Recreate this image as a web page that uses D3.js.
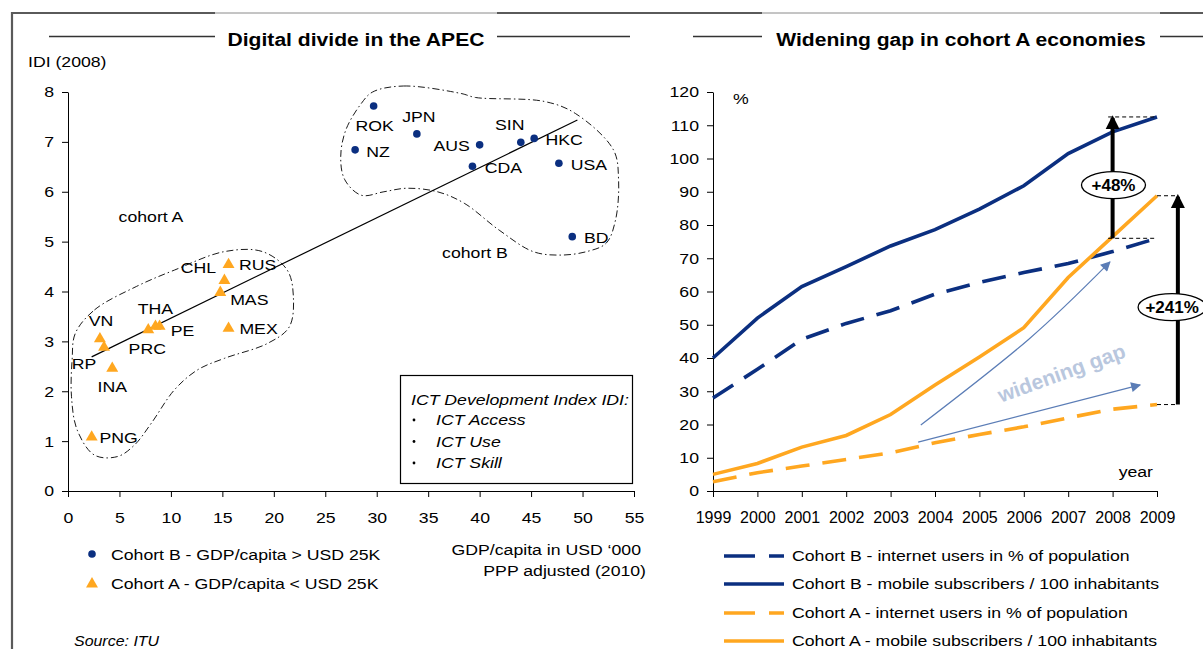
<!DOCTYPE html>
<html><head><meta charset="utf-8">
<script src="https://cdn.jsdelivr.net/npm/d3@7"></script>
<style>
html,body{margin:0;padding:0;background:#fff;}
svg{display:block;font-family:"Liberation Sans",Arial,sans-serif;}
</style></head>
<body><svg id="c" width="1203" height="649"></svg>
<script>
// ---------- Left chart data ----------
const cohortBNames = ["ROK","JPN","AUS","SIN","HKC","NZ","CDA","USA","BD"];
const cohortBGdp   = [29.7, 33.9, 40.0, 44.0, 45.3, 27.9, 39.3, 47.7, 49.0];
const cohortBIdi   = [7.72, 7.16, 6.94, 6.99, 7.07, 6.84, 6.51, 6.57, 5.10];
const cohortANames = ["PNG","INA","RP","VN","PRC","THA","PE","MAS","CHL","RUS","MEX"];
const cohortAGdp   = [2.3, 4.3, 3.5, 3.1, 7.8, 8.5, 8.9, 14.8, 15.2, 15.6, 15.6];
const cohortAIdi   = [1.08, 2.46, 2.88, 3.05, 3.23, 3.3, 3.3, 3.98, 4.22, 4.54, 3.26];
const trendGdp = [2.3, 49.5];
const trendIdi = [2.69, 7.44];
const xTicksLeft = [0,5,10,15,20,25,30,35,40,45,50,55];
const yTicksLeft = [0,1,2,3,4,5,6,7,8];
// outline of groups (data coordinates)
const blobBGdp = [29.6,32.6,38.2,39.6,46.3,49.3,53.0,53.5,53.2,52.3,50.4,47.8,45.2,41.9,38.5,35.9,32.9,30.7,28.5,26.9,26.5,27.0,28.5];
const blobBIdi = [8.0,8.12,7.97,7.89,7.81,7.57,6.84,6.24,5.43,4.97,4.80,4.73,4.80,5.23,5.77,6.0,6.07,6.0,5.93,6.24,6.70,7.24,7.77];
const blobAGdp = [0.71,2.57,6.64,10.35,15.2,18.9,21.3,21.9,21.5,19.4,15.2,12.6,10.35,8.1,6.45,4.8,2.57,0.9,0.34,0.4];
const blobAIdi = [3.16,3.63,4.10,4.43,4.80,4.80,4.43,3.90,3.29,2.96,2.66,2.43,2.03,1.36,0.92,0.69,0.72,1.22,1.89,2.63];

// ---------- Right chart data ----------
const years = [1999,2000,2001,2002,2003,2004,2005,2006,2007,2008,2009];
const bInternet = [28, 36.6, 45.6, 50.4, 54.2, 59.2, 62.7, 65.7, 68.4, 72, 76];
const bMobile   = [40, 52, 61.5, 67.5, 73.7, 78.6, 84.8, 91.8, 101.5, 108, 112.5];
const aInternet = [2.8, 5.5, 7.5, 9.5, 11.5, 14.5, 17, 19.3, 22, 24.6, 26];
const aMobile   = [5, 8.3, 13.2, 16.7, 23, 31.9, 40.3, 49.1, 64.2, 76.5, 88.8];
const yTicksRight = [0,10,20,30,40,50,60,70,80,90,100,110,120];
const seriesNames = ["Cohort B - internet users in % of population","Cohort B - mobile subscribers / 100 inhabitants","Cohort A - internet users in % of population","Cohort A - mobile subscribers / 100 inhabitants"];
const gapLabels = ["+48%","+241%"];

const NAVY = "#0b2f80", ORANGE = "#ffa720", FONT = 15.5, STRETCH = 1.14;
const svg = d3.select("#c");

// ---------- frame ----------
const frame = svg.append("g");
[[11,215,2.2,"#5a5a5a"],[215,497,1,"#8a8a8a"],[497,762,2.2,"#5a5a5a"],[762,1160,1,"#8a8a8a"],[1160,1203,2.2,"#5a5a5a"]].forEach(s=>{
  frame.append("line").attr("x1",s[0]).attr("x2",s[1]).attr("y1",13).attr("y2",13).attr("stroke",s[3]).attr("stroke-width",s[2]);
});
frame.append("line").attr("x1",12).attr("x2",12).attr("y1",12).attr("y2",649).attr("stroke","#5a5a5a").attr("stroke-width",2.2);

// titles
function title(cx, txt, l1, l2, r1, r2){
  svg.append("text").attr("x",cx).attr("y",46).attr("text-anchor","middle").attr("font-weight","bold").attr("font-size",18.5).text(txt);
  svg.append("line").attr("x1",l1).attr("x2",l2).attr("y1",36.5).attr("y2",36.5).attr("stroke","#333").attr("stroke-width",1.3);
  svg.append("line").attr("x1",r1).attr("x2",r2).attr("y1",36.5).attr("y2",36.5).attr("stroke","#333").attr("stroke-width",1.3);
}
title(356, "Digital divide in the APEC", 49, 215, 497, 630);
title(961, "Widening gap in cohort A economies", 693, 762, 1160, 1203);

// ---------- LEFT CHART ----------
const xL = d3.scaleLinear().domain([0,55]).range([68,634]);
const yL = d3.scaleLinear().domain([0,8]).range([491,92]);
const gL = svg.append("g");

gL.append("g").attr("transform","translate(68,0)")
  .call(d3.axisLeft(yL).tickValues(yTicksLeft).tickSize(6).tickSizeOuter(0).tickPadding(8))
  .call(g=>{g.select(".domain").attr("stroke","#000");g.selectAll("text").attr("font-size",FONT).attr("font-family","inherit");});
gL.append("g").attr("transform","translate(0,491)")
  .call(d3.axisBottom(xL).tickValues(xTicksLeft).tickSize(6).tickSizeOuter(0).tickPadding(15))
  .call(g=>{g.select(".domain").attr("stroke","#000");g.selectAll("text").attr("font-size",FONT).attr("font-family","inherit");});

gL.append("text").attr("x",28).attr("y",67).attr("font-size",FONT).text("IDI (2008)");

// blobs
const blobLine = d3.line().x(d=>xL(d[0])).y(d=>yL(d[1])).curve(d3.curveCatmullRomClosed.alpha(0.5));
[[blobBGdp,blobBIdi],[blobAGdp,blobAIdi]].forEach(([gx,gy])=>{
  gL.append("path").attr("d",blobLine(d3.zip(gx,gy))).attr("fill","none").attr("stroke","#000")
    .attr("stroke-width",0.9).attr("stroke-dasharray","7,3,1.5,3");
});

// trend
gL.append("line").attr("x1",xL(trendGdp[0])).attr("y1",yL(trendIdi[0])).attr("x2",xL(trendGdp[1])).attr("y2",yL(trendIdi[1]))
  .attr("stroke","#000").attr("stroke-width",1.2);

// label offsets (pixels)
const offB = [[1,25],[2,-12],[-28,6],[-11,-12],[30,7],[23,7],[31,7],[30,7],[24,6]];
const offA = [[27,6],[0,24],[-20,22],[1,-13],[-1,24],[0,-12],[23,10],[29,13],[-26,-8],[29,5],[30,6]];

cohortBNames.forEach((n,i)=>{
  const px=xL(cohortBGdp[i]), py=yL(cohortBIdi[i]);
  gL.append("circle").attr("cx",px).attr("cy",py).attr("r",3.8).attr("fill",NAVY);
  gL.append("text").attr("x",px+offB[i][0]).attr("y",py+offB[i][1]).attr("text-anchor","middle").attr("font-size",FONT).text(n);
});
const tri = d3.symbol().type(d3.symbolTriangle).size(62);
cohortANames.forEach((n,i)=>{
  const px=xL(cohortAGdp[i]), py=yL(cohortAIdi[i]);
  gL.append("path").attr("d",tri()).attr("transform",`translate(${px},${py})`).attr("fill",ORANGE);
  gL.append("text").attr("x",px+offA[i][0]).attr("y",py+offA[i][1]).attr("text-anchor","middle").attr("font-size",FONT).text(n);
});

gL.append("text").attr("x",151).attr("y",222).attr("text-anchor","middle").attr("font-size",FONT).text("cohort A");
gL.append("text").attr("x",475).attr("y",258).attr("text-anchor","middle").attr("font-size",FONT).text("cohort B");

// IDI box
gL.append("rect").attr("x",400.5).attr("y",375.5).attr("width",232).attr("height",108).attr("fill","#fff").attr("stroke","#000").attr("stroke-width",1.2);
const boxText = ["ICT Access","ICT Use","ICT Skill"];
gL.append("text").attr("x",411).attr("y",405).attr("font-style","italic").attr("font-size",FONT).text("ICT Development  Index IDI:");
boxText.forEach((t,i)=>{
  gL.append("circle").attr("cx",414).attr("cy",420+i*21.5).attr("r",1.4).attr("fill","#000");
  gL.append("text").attr("x",436).attr("y",425.5+i*21.5).attr("font-style","italic").attr("font-size",FONT).text(t);
});

// left legend
gL.append("circle").attr("cx",92).attr("cy",554).attr("r",3.8).attr("fill",NAVY);
gL.append("text").attr("x",111).attr("y",560).attr("font-size",FONT).text("Cohort B - GDP/capita > USD 25K");
gL.append("path").attr("d",tri()).attr("transform","translate(92,584)").attr("fill",ORANGE);
gL.append("text").attr("x",111).attr("y",589).attr("font-size",FONT).text("Cohort A - GDP/capita < USD 25K");
gL.append("text").attr("x",641).attr("y",555).attr("text-anchor","end").attr("font-size",FONT).text("GDP/capita in USD \u2018000");
gL.append("text").attr("x",646).attr("y",576).attr("text-anchor","end").attr("font-size",FONT).text("PPP adjusted (2010)");
gL.append("text").attr("x",74).attr("y",646).attr("font-style","italic").attr("font-size",14).text("Source: ITU");

// ---------- RIGHT CHART ----------
const xR = d3.scaleLinear().domain([1999,2009]).range([713,1157]);
const yR = d3.scaleLinear().domain([0,120]).range([491,92]);
const gR = svg.append("g");
gR.append("g").attr("transform","translate(713,0)")
  .call(d3.axisLeft(yR).tickValues(yTicksRight).tickSize(6).tickSizeOuter(0).tickPadding(8))
  .call(g=>{g.select(".domain").attr("stroke","#000");g.selectAll("text").attr("font-size",FONT).attr("font-family","inherit");});
gR.append("g").attr("transform","translate(0,491)")
  .call(d3.axisBottom(xR).tickValues(years).tickFormat(d3.format("d")).tickSize(6).tickSizeOuter(0).tickPadding(15))
  .call(g=>{g.select(".domain").attr("stroke","#000");g.selectAll("text").attr("font-size",16).attr("font-family","inherit").classed("nostretch",true);});
gR.append("text").attr("x",733).attr("y",104).attr("font-size",FONT).text("%");
gR.append("text").attr("x",1153).attr("y",477).attr("text-anchor","end").attr("font-size",FONT).text("year");

const series = [
  {v:bInternet, c:NAVY, dash:"24,13"},
  {v:bMobile, c:NAVY, dash:null},
  {v:aInternet, c:ORANGE, dash:"24,13"},
  {v:aMobile, c:ORANGE, dash:null}
];
const ln = d3.line().x((d,i)=>xR(years[i])).y(d=>yR(d));
series.forEach(s=>{
  const p = gR.append("path").attr("d",ln(s.v)).attr("fill","none").attr("stroke",s.c).attr("stroke-width",3.6);
  if(s.dash) p.attr("stroke-dasharray",s.dash);
});

// widening gap arrows
const defs = svg.append("defs");
defs.append("marker").attr("id","ah").attr("viewBox","0 0 10 10").attr("refX",9).attr("refY",5)
  .attr("markerWidth",14).attr("markerHeight",10).attr("markerUnits","userSpaceOnUse").attr("orient","auto")
  .append("path").attr("d","M0,0L10,5L0,10z").attr("fill","#5b7db6");
defs.append("marker").attr("id","bh").attr("viewBox","0 0 10 10").attr("refX",8).attr("refY",5)
  .attr("markerWidth",14).attr("markerHeight",15).attr("markerUnits","userSpaceOnUse").attr("orient","auto")
  .append("path").attr("d","M0,0L10,5L0,10z").attr("fill","#000");

const arrowA = [[2003.68,19.85],[2006.1,45.5],[2007.94,68.9]];
const arrowB = [[2003.62,14.7],[2008.62,31.9]];
const curv = d3.line().x(d=>xR(d[0])).y(d=>yR(d[1])).curve(d3.curveNatural);
[arrowA, arrowB].forEach(a=>{
  gR.append("path").attr("d",curv(a)).attr("fill","none").attr("stroke","#5b7db6").attr("stroke-width",1.2).attr("marker-end","url(#ah)");
});
gR.append("text").attr("class","nostretch").attr("transform",`translate(${xR(2006.85)},${yR(35.5)}) rotate(-20)`).attr("text-anchor","middle")
  .attr("dy","0.35em").attr("font-weight","bold").attr("font-size",21).attr("fill","#b9c7de").text("widening gap");

// gap annotations
const gaps = [
  {x:2008, from:bInternet[10], to:bMobile[10], gx0:2007.9, gx1:2009, lx:2008.02, ly:92},
  {x:2009.47, from:aInternet[10], to:aMobile[10], gx0:2009, gx1:2009.47, lx:2009.34, ly:55.3}
];
gaps.forEach((g,i)=>{
  [g.from,g.to].forEach(v=>{
    gR.append("line").attr("x1",xR(g.gx0)).attr("x2",xR(g.gx1)).attr("y1",yR(v)).attr("y2",yR(v))
      .attr("stroke","#000").attr("stroke-width",1).attr("stroke-dasharray","4,3");
  });
  gR.append("line").attr("x1",xR(g.x)).attr("x2",xR(g.x)).attr("y1",yR(g.from)).attr("y2",yR(g.to)+1)
    .attr("stroke","#000").attr("stroke-width",4).attr("marker-end","url(#bh)");
  gR.append("ellipse").attr("cx",xR(g.lx)).attr("cy",yR(g.ly)).attr("rx",i===0?32:34).attr("ry",13.5)
    .attr("fill","#fff").attr("stroke","#000").attr("stroke-width",1.3);
  gR.append("text").attr("class","nostretch").attr("x",xR(g.lx)).attr("y",yR(g.ly)).attr("dy","0.36em").attr("text-anchor","middle")
    .attr("font-weight","bold").attr("font-size",17).text(gapLabels[i]);
});

// right legend
const legY = [556,584,613,641];
series.forEach((s,i)=>{
  const l = gR.append("line").attr("x1",724).attr("x2",784).attr("y1",legY[i]).attr("y2",legY[i]).attr("stroke",s.c).attr("stroke-width",3.6);
  if(s.dash) l.attr("stroke-dasharray","31,14");
  gR.append("text").attr("x",792).attr("y",legY[i]+5.5).attr("font-size",FONT).text(seriesNames[i]);
});

// the reference's lettering is slightly wide: stretch each text horizontally about its anchor
svg.selectAll("text").each(function(){
  const t = d3.select(this);
  if (t.classed("nostretch")) return;
  const x = +(t.attr("x")||0), y = +(t.attr("y")||0);
  t.attr("transform",`translate(${x},${y}) scale(${STRETCH},1) translate(${-x},${-y})`);
});
</script></body></html>
